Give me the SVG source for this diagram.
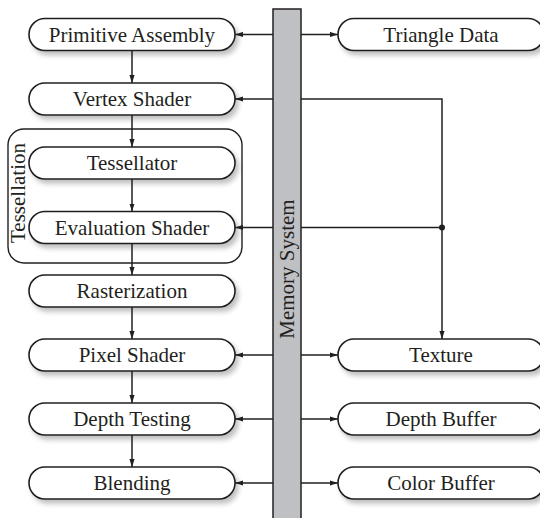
<svg xmlns="http://www.w3.org/2000/svg" width="540" height="518" viewBox="0 0 540 518">
<style>
.box{fill:#fff;stroke:#231f20;stroke-width:1.6;filter:url(#sh)}
.lbl{font-family:"Liberation Serif","Times New Roman",serif;font-size:21px;fill:#231f20;text-anchor:middle}
.ln{fill:none;stroke:#231f20;stroke-width:1.5}
</style>
<defs>
<filter id="sh" x="-10%" y="-30%" width="125%" height="180%">
<feGaussianBlur in="SourceAlpha" stdDeviation="2.5"/>
<feOffset dx="3" dy="4" result="b"/>
<feComponentTransfer><feFuncA type="linear" slope="0.25"/></feComponentTransfer>
<feMerge><feMergeNode/><feMergeNode in="SourceGraphic"/></feMerge>
</filter>
<marker id="ar" viewBox="0 0 8 6" refX="8" refY="3" markerWidth="8" markerHeight="6" markerUnits="userSpaceOnUse" orient="auto">
<path d="M0,0.4 L8,3 L0,5.6 Z" fill="#231f20"/>
</marker>
</defs>
<rect width="540" height="518" fill="#fff"/>

<g id="tessellation-group">
<rect x="8" y="129" width="234" height="134" rx="16" fill="none" stroke="#231f20" stroke-width="1.4"/>
<text class="lbl" transform="translate(24.5,193) rotate(-90)">Tessellation</text>
</g>

<g id="memory-system">
<rect x="273" y="9" width="28" height="515" fill="#bfc0c4" stroke="#231f20" stroke-width="1.5"/>
<text class="lbl" transform="translate(294,269) rotate(-90)">Memory System</text>
</g>

<g id="primitive-assembly"><rect class="box" x="29" y="18.5" width="206" height="32" rx="16"/><text class="lbl" x="132" y="41.5">Primitive Assembly</text></g>
<g id="vertex-shader"><rect class="box" x="29" y="83" width="206" height="32" rx="16"/><text class="lbl" x="132" y="106">Vertex Shader</text></g>
<g id="tessellator"><rect class="box" x="29" y="147" width="206" height="32" rx="16"/><text class="lbl" x="132" y="170">Tessellator</text></g>
<g id="evaluation-shader"><rect class="box" x="29" y="211.5" width="206" height="32" rx="16"/><text class="lbl" x="132" y="234.5">Evaluation Shader</text></g>
<g id="rasterization"><rect class="box" x="29" y="275" width="206" height="32" rx="16"/><text class="lbl" x="132" y="298">Rasterization</text></g>
<g id="pixel-shader"><rect class="box" x="29" y="339" width="206" height="32" rx="16"/><text class="lbl" x="132" y="362">Pixel Shader</text></g>
<g id="depth-testing"><rect class="box" x="29" y="403" width="206" height="32" rx="16"/><text class="lbl" x="132" y="426">Depth Testing</text></g>
<g id="blending"><rect class="box" x="29" y="467" width="206" height="32" rx="16"/><text class="lbl" x="132" y="490">Blending</text></g>

<g id="triangle-data"><rect class="box" x="338" y="18.5" width="206" height="32" rx="16"/><text class="lbl" x="441" y="41.5">Triangle Data</text></g>
<g id="texture"><rect class="box" x="338" y="339" width="206" height="32" rx="16"/><text class="lbl" x="441" y="362">Texture</text></g>
<g id="depth-buffer"><rect class="box" x="338" y="403" width="206" height="32" rx="16"/><text class="lbl" x="441" y="426">Depth Buffer</text></g>
<g id="color-buffer"><rect class="box" x="338" y="467" width="206" height="32" rx="16"/><text class="lbl" x="441" y="490">Color Buffer</text></g>

<g id="connectors">
<path class="ln" marker-end="url(#ar)" d="M132,50.5 V83"/>
<path class="ln" marker-end="url(#ar)" d="M132,115 V147"/>
<path class="ln" marker-end="url(#ar)" d="M132,179 V211.5"/>
<path class="ln" marker-end="url(#ar)" d="M132,243.5 V275"/>
<path class="ln" marker-end="url(#ar)" d="M132,307 V339"/>
<path class="ln" marker-end="url(#ar)" d="M132,371 V403"/>
<path class="ln" marker-end="url(#ar)" d="M132,435 V467"/>

<path class="ln" marker-end="url(#ar)" d="M273,34.5 H235"/>
<path class="ln" marker-end="url(#ar)" d="M273,99 H235"/>
<path class="ln" marker-end="url(#ar)" d="M273,227.5 H235"/>
<path class="ln" marker-end="url(#ar)" d="M273,355 H235"/>
<path class="ln" marker-end="url(#ar)" d="M273,419 H235"/>
<path class="ln" marker-end="url(#ar)" d="M273,483 H235"/>

<path class="ln" marker-end="url(#ar)" d="M301,34.5 H338"/>
<path class="ln" marker-end="url(#ar)" d="M301,355 H338"/>
<path class="ln" marker-end="url(#ar)" d="M301,419 H338"/>
<path class="ln" marker-end="url(#ar)" d="M301,483 H338"/>

<path class="ln" marker-end="url(#ar)" d="M301,99 H442 V339"/>
<path class="ln" d="M301,227.5 H442"/>
<circle cx="442" cy="227.5" r="3" fill="#231f20"/>
</g>
</svg>
